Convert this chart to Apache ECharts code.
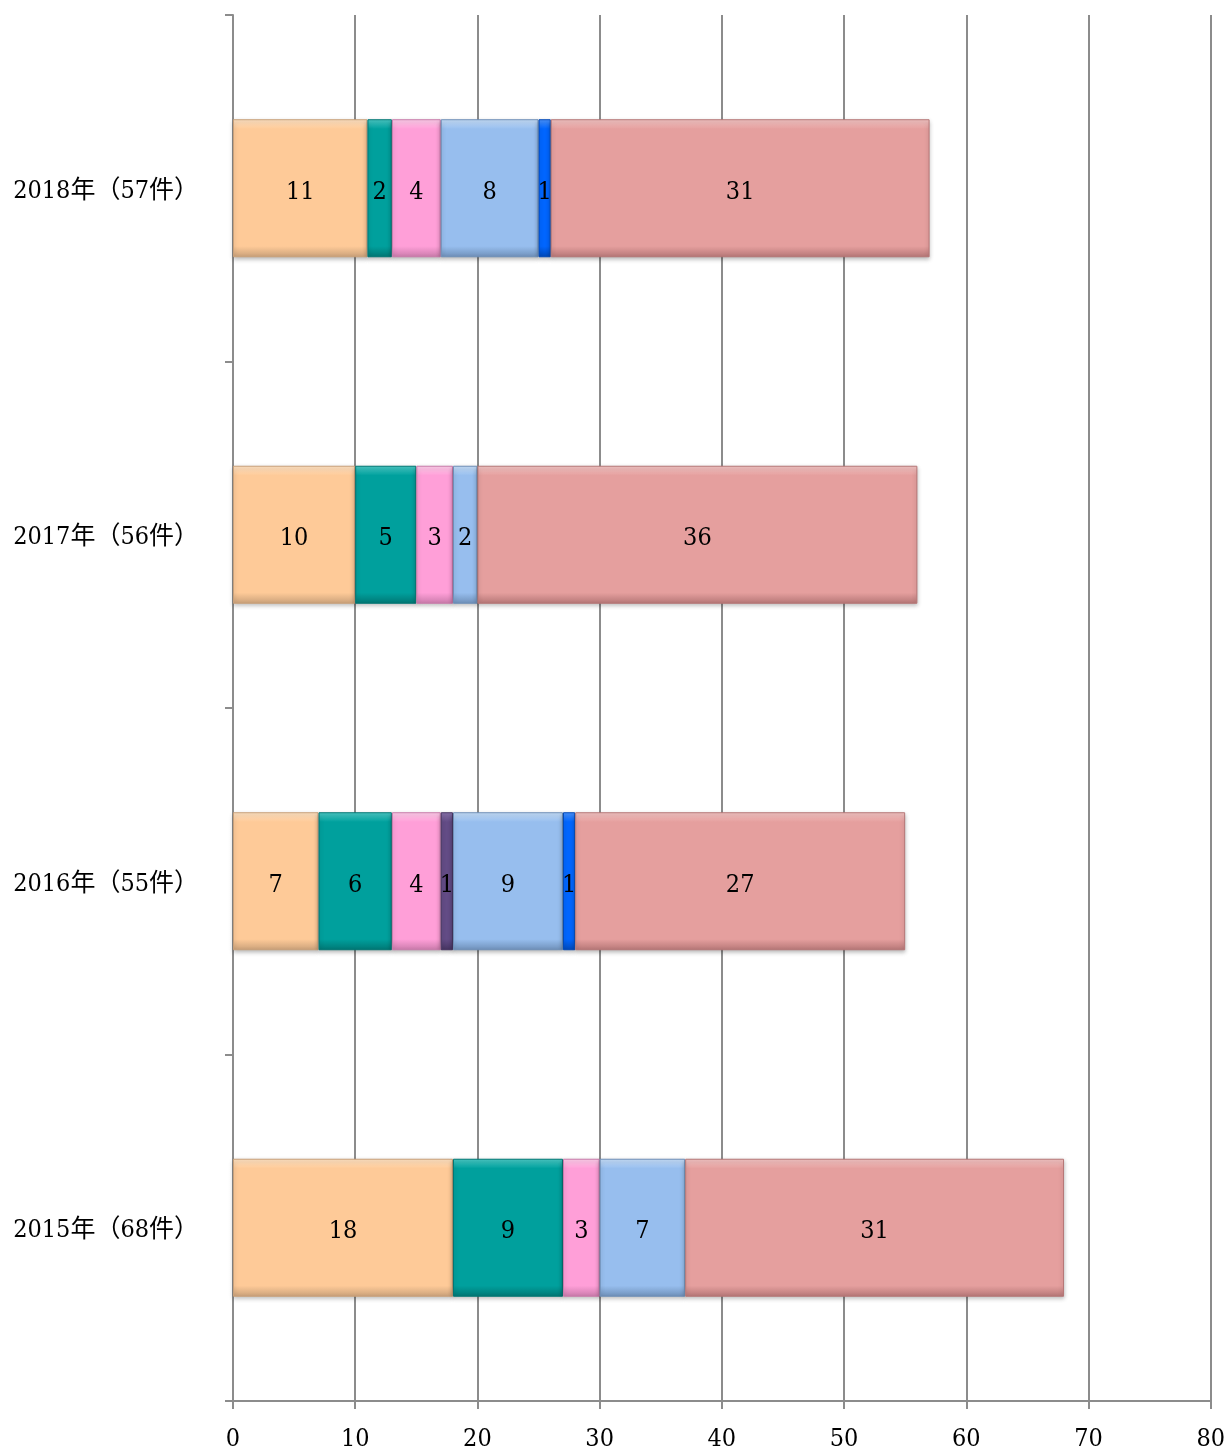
<!DOCTYPE html>
<html><head><meta charset="utf-8">
<script src="https://cdn.jsdelivr.net/npm/echarts@6/dist/echarts.min.js"></script>
<style>html,body{margin:0;padding:0;background:#fff}#c{width:1228px;height:1452px}</style>
</head><body><div id="c"></div>
<script>
const categories = ['2015年（68件）','2016年（55件）','2017年（56件）','2018年（57件）'];
const seriesNames = ['A','B','C','D','E','F','G'];
const sOrange = [18, 7, 10, 11];
const sTeal   = [9, 6, 5, 2];
const sPink   = [3, 4, 3, 4];
const sPurple = [0, 1, 0, 0];
const sLight  = [7, 9, 2, 8];
const sBlue   = [0, 1, 0, 1];
const sRose   = [31, 27, 36, 31];
const xTicks = [0,10,20,30,40,50,60,70,80];

const colors = ['#FECA98','#00A09D','#FF9FD8','#634C86','#97BEEE','#0066FF','#E59F9E'];
const lights = ['#FFE3C4','#4CCBC7','#FFD0EC','#8B74AD','#C8E0FA','#4C95FF','#F4C6C5'];
const borders = ['#C9A079','#007673','#C97AAA','#463461','#6E8FB8','#0048B8','#B57676'];
const allData = [sOrange,sTeal,sPink,sPurple,sLight,sBlue,sRose];
const FONT = '"DejaVu Serif Condensed","DejaVu Serif","Noto Sans CJK JP",serif';

const series = allData.map((d,i)=>({
  name: seriesNames[i], type:'bar', stack:'total', barWidth: 138,
  data: d.map(v => v === 0 ? '-' : v),
  itemStyle:{
    color:{type:'linear',x:0,y:0,x2:0,y2:1,colorStops:[
      {offset:0,color:lights[i]},{offset:0.07,color:colors[i]},{offset:0.92,color:colors[i]},{offset:1,color:borders[i]}]},
    borderColor:borders[i], borderWidth:1,
    shadowColor:'rgba(0,0,0,0.25)', shadowBlur:4, shadowOffsetY:2
  },
  label:{show:true, position:'inside', color:'#000', fontSize:25, fontFamily:FONT, offset:[0,4],
    formatter: p => (p.value ? String(p.value) : '')}
}));

const chart = echarts.init(document.getElementById('c'));
chart.setOption({
  animation:false,
  backgroundColor:'#fff',
  grid:{left:233,right:17,top:15,bottom:49,containLabel:false},
  xAxis:{type:'value',min:0,max:80,interval:10,
    axisLine:{show:true,lineStyle:{color:'#8c8c8c',width:2}},
    axisTick:{show:true,length:8,lineStyle:{color:'#8c8c8c',width:2}},
    axisLabel:{color:'#000',fontSize:25,fontFamily:FONT,margin:26,
      formatter: v => xTicks.includes(v) ? String(v) : ''},
    splitLine:{show:true,lineStyle:{color:'#8c8c8c',width:2}}
  },
  yAxis:{type:'category',data:categories,
    axisLine:{show:true,lineStyle:{color:'#8c8c8c',width:2}},
    axisTick:{show:true,length:8,lineStyle:{color:'#8c8c8c',width:2}},
    axisLabel:{color:'#000',fontSize:25,fontFamily:FONT,margin:34,
      formatter: v => '{t|' + v + '}',
      rich:{t:{fontSize:25,fontFamily:FONT,color:'#000',padding:[6,0,0,0]}}}
  },
  series
});
</script></body></html>
